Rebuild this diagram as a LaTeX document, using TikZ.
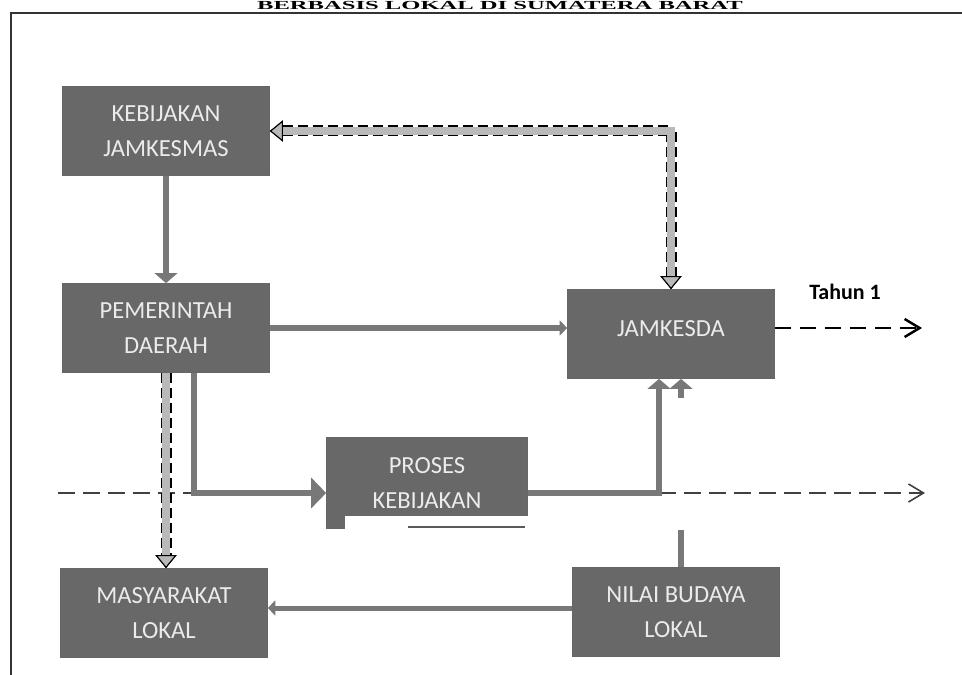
\documentclass[tikz,border=0pt]{standalone}
\usepackage{fontspec}
\setmainfont{Carlito}
\newfontfamily\judulfont{Liberation Serif}
\usetikzlibrary{arrows.meta}
\definecolor{kotakabu}{HTML}{686868}
\definecolor{panahabu}{HTML}{787878}
\tikzset{
  ujungbesar/.tip={Triangle[length=0.3cm,width=0.6cm]},
  ujungsedang/.tip={Triangle[length=0.2cm,width=0.45cm]},
  ujungkecil/.tip={Triangle[length=0.15cm,width=0.3cm]},
  ujungumpan/.tip={Triangle[color=black,fill=gray!55,line width=0.6pt,length=0.26cm,width=0.42cm]},
  ujungbuka/.tip={Straight Barb[length=0.3cm,width=0.36cm]}
}

\begin{document}
\begin{tikzpicture}[x=0.02cm,y=-0.02cm,
  kotak/.style={draw=black!60,fill=kotakabu,text=black!8,minimum width=4.14cm,minimum height=1.78cm,align=center,font=\fontsize{14}{20}\selectfont},
  panah/.style={draw=panahabu,line width=0.13cm},
  umpan/.style={draw=gray!55,line width=0.16cm,preaction={draw=black,line width=0.22cm,dash pattern=on 0.2cm off 0.1cm}},
  sumbu/.style={draw=black!75,line width=0.9pt,dash pattern=on 0.34cm off 0.16cm},
  tahun/.style={draw=black,line width=1.4pt,dash pattern=on 0.32cm off 0.18cm}]
\useasboundingbox (0,0) rectangle (962,675);
\node[font=\judulfont\bfseries\fontsize{7}{7}\selectfont,anchor=base,inner sep=0pt] (judul) at (500,10) {\scalebox{2}[1]{BERBASIS LOKAL DI SUMATERA BARAT}};
\draw[line width=0.8pt,black!80] (11,675) -- (11,13) -- (962,13);
\node[kotak] (keb) at (166,131) {KEBIJAKAN\\JAMKESMAS};
\node[kotak] (pem) at (166,328) {PEMERINTAH\\DAERAH};
\node[kotak] (jam) at (671,334) {\raisebox{0.2cm}{JAMKESDA}};
\node[kotak,minimum width=4.02cm,minimum height=1.82cm] (pros) at (427,483) {PROSES\\KEBIJAKAN};
\node[kotak] (mas) at (164,613) {MASYARAKAT\\LOKAL};
\node[kotak] (nil) at (676,612) {NILAI BUDAYA\\LOKAL};
\node[font=\bfseries\fontsize{12.5}{15}\selectfont] (thn) at (845,292) {Tahun 1};
\coordinate (b1) at (194,493);
\coordinate (b2) at (659,493);
\coordinate (b3) at (420,608);
\coordinate (p1) at (681,398);
\coordinate (p2) at (681,530);
\coordinate (t0) at (58,493);
\coordinate (t1) at (925,493);
\coordinate (t2) at (922,328);
\fill[white] (345,516) rectangle (529,532);
\draw[black!65,line width=1.5pt] (408,527) -- (525,527);
\draw[sumbu] (t0) -- (b1);
\draw[sumbu,-ujungbuka] (b2) -- (t1);
\draw[panah,-ujungsedang] (keb.south) -- (pem.north);
\draw[panah,-ujungkecil] (pem.east) -- (pem.east -| jam.west);
\draw[panah,-ujungbesar] (pem.south -| b1) -- (b1) -- (pros.west |- b1);
\draw[panah,-ujungsedang] (pros.east |- b2) -- (b2) -- (b2 |- jam.south);
\draw[panah,-ujungsedang] (p1) -- (p1 |- jam.south);
\draw[panah] (nil.north -| p2) -- (p2);
\draw[panah,line width=0.1cm,-ujungkecil] (nil.west |- b3) -- (mas.east |- b3);
\draw[umpan,ujungumpan-ujungumpan] (keb.east) -| (jam.north);
\draw[umpan,-ujungumpan] (pem.south) -- (pem.south |- mas.north);
\draw[tahun,-ujungbuka] (jam.east |- t2) -- (t2);
\end{tikzpicture}
\end{document}
